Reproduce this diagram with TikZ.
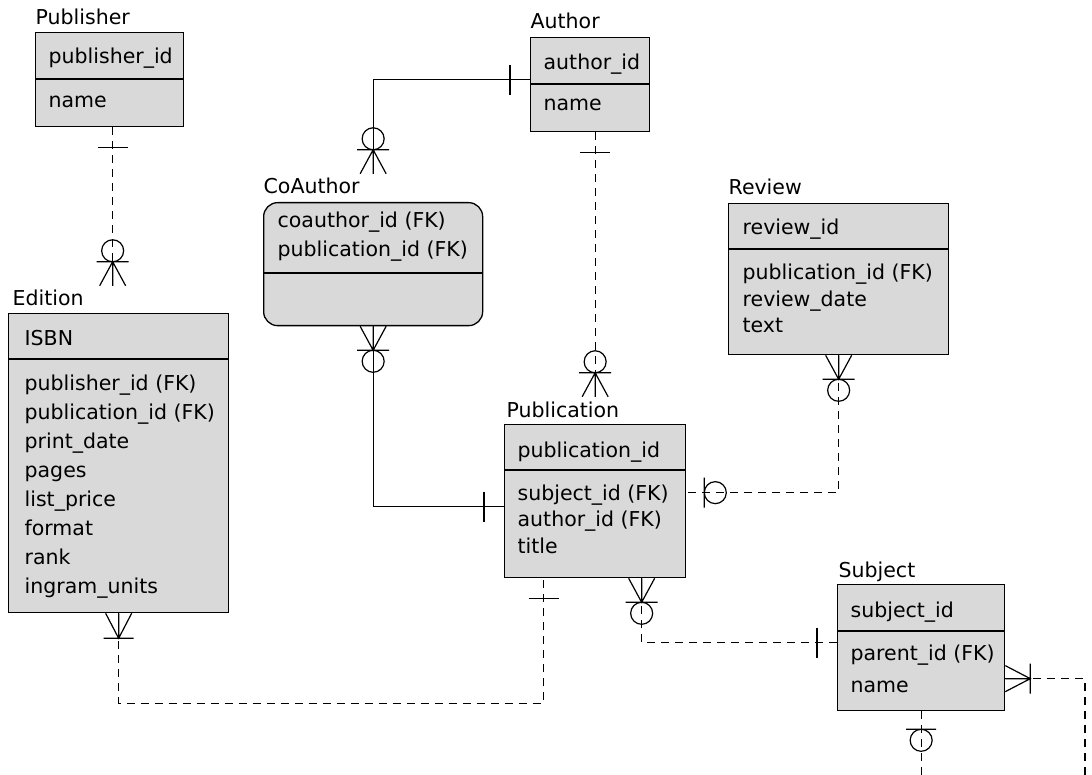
\documentclass[tikz,border=0pt]{standalone}
\usepackage{fontspec}
\newfontfamily\erfont{DejaVu Sans}
\usepackage{tikz}
\usetikzlibrary{calc}
\definecolor{boxfill}{HTML}{D9D9D9}

\tikzset{
  crow/.style={solid, line width=1.2pt},
  % cardinality marks, drawn with the entity at the origin and the line going down
  onebar/.pic={\draw[crow] (-15,20) -- (15,20);},
  zeroone/.pic={\draw[crow] (-15,18) -- (15,18) (0,29) circle[radius=11];},
  onemany/.pic={\draw[crow] (-13,0) -- (0,25) -- (13,0) (0,0) -- (0,25) (-15,25) -- (15,25);},
  zeromany/.pic={\draw[crow] (-13,0) -- (0,24) -- (13,0) (0,0) -- (0,24) (-16,24) -- (16,24) (0,35) circle[radius=11];}
}

\begin{document}
\begin{tikzpicture}[x=1pt, y=-1pt, line width=1.3pt,
  entity/.style={draw, fill=boxfill, anchor=north west, inner sep=0pt},
  field/.style={anchor=base west, inner sep=0pt, font={\erfont\fontsize{20.5}{24}\selectfont}},
  rel/.style={line width=1.2pt, dash pattern=on 8pt off 6pt},
  idrel/.style={line width=1.2pt, solid}]
  \useasboundingbox (0,0) rectangle (1092,775);

  % Publisher
  \node[field] (publisherlbl) at (35,25) {Publisher};
  \node[entity, minimum width=148pt, minimum height=94pt] (publisher) at (35,32) {};
  \draw ([yshift=-47pt]publisher.north west) -- ([yshift=-47pt]publisher.north east);
  \node[field] (publisherkey) at (48,64) {publisher\_id};
  \node[field] (publisher1) at (48,108) {name};

  % Author
  \node[field] (authorlbl) at (530,29) {Author};
  \node[entity, minimum width=119pt, minimum height=94pt] (author) at (530,37) {};
  \draw ([yshift=-47pt]author.north west) -- ([yshift=-47pt]author.north east);
  \node[field] (authorkey) at (543,70) {author\_id};
  \node[field] (author1) at (543,111) {name};

  % CoAuthor
  \node[field] (coauthorlbl) at (263,194) {CoAuthor};
  \node[entity, rounded corners=14pt, minimum width=219pt, minimum height=123pt] (coauthor) at (263,202) {};
  \draw ([yshift=-71pt]coauthor.north west) -- ([yshift=-71pt]coauthor.north east);
  \foreach \f [count=\i] in {{coauthor\_id (FK)}, {publication\_id (FK)}}
    \node[field] (coauthor\i) at (277, 199+29*\i) {\f};

  % Review
  \node[field] (reviewlbl) at (728,195) {Review};
  \node[entity, minimum width=220pt, minimum height=151pt] (review) at (728,203) {};
  \draw ([yshift=-46pt]review.north west) -- ([yshift=-46pt]review.north east);
  \node[field] (reviewkey) at (742,235) {review\_id};
  \foreach \f [count=\i] in {{publication\_id (FK)}, review\_date, text}
    \node[field] (review\i) at (742, 253.5+26.5*\i) {\f};

  % Edition
  \node[field] (editionlbl) at (12,306) {Edition};
  \node[entity, minimum width=220pt, minimum height=299pt] (edition) at (8,313) {};
  \draw ([yshift=-46pt]edition.north west) -- ([yshift=-46pt]edition.north east);
  \node[field] (editionkey) at (24,345) {ISBN};
  \foreach \f [count=\i] in {{publisher\_id (FK)}, {publication\_id (FK)}, print\_date, pages,
                             list\_price, format, rank, ingram\_units}
    \node[field] (edition\i) at (24, 361+29*\i) {\f};

  % Publication
  \node[field] (publicationlbl) at (506,417) {Publication};
  \node[entity, minimum width=181pt, minimum height=153pt] (publication) at (504,424) {};
  \draw ([yshift=-46pt]publication.north west) -- ([yshift=-46pt]publication.north east);
  \node[field] (publicationkey) at (517,457) {publication\_id};
  \foreach \f [count=\i] in {{subject\_id (FK)}, {author\_id (FK)}, title}
    \node[field] (publication\i) at (517, 473.5+26.5*\i) {\f};

  % Subject
  \node[field] (subjectlbl) at (838,577) {Subject};
  \node[entity, minimum width=167pt, minimum height=126pt] (subject) at (837,584) {};
  \draw ([yshift=-47pt]subject.north west) -- ([yshift=-47pt]subject.north east);
  \node[field] (subjectkey) at (850,617) {subject\_id};
  \foreach \f [count=\i] in {{parent\_id (FK)}, name}
    \node[field] (subject\i) at (850, 628+32*\i) {\f};

  % relationships
  % publisher - edition
  \draw[rel] ([xshift=3pt]publisher.south) -- ([xshift=3pt,yshift=4pt]publisher.south |- editionlbl.north);
  \pic at ([xshift=3pt]publisher.south) {onebar};
  \pic[rotate=180] at ([xshift=3pt,yshift=4pt]publisher.south |- editionlbl.north) {zeromany};

  % author - coauthor (identifying)
  \draw[idrel] ([yshift=5pt]author.west) -| ([yshift=4pt]coauthor.north |- coauthorlbl.north);
  \pic[rotate=-90] at ([yshift=5pt]author.west) {onebar};
  \pic[rotate=180] at ([yshift=4pt]coauthor.north |- coauthorlbl.north) {zeromany};

  % coauthor - publication (identifying)
  \draw[idrel] (coauthor.south) |- ([yshift=-5.5pt]publication.west);
  \pic at (coauthor.south) {zeromany};
  \pic[rotate=-90] at ([yshift=-5.5pt]publication.west) {onebar};

  % author - publication
  \draw[rel] (author.south -| publication.north) -- ([yshift=4pt]publication.north |- publicationlbl.north);
  \pic at (author.south -| publication.north) {onebar};
  \pic[rotate=180] at ([yshift=4pt]publication.north |- publicationlbl.north) {zeromany};

  % review - publication
  \draw[rel] (review.south) |- ([yshift=8.5pt]publication.east);
  \pic at (review.south) {zeromany};
  \pic[rotate=90] at ([yshift=8.5pt]publication.east) {zeroone};

  % edition - publication
  \draw[rel] (edition.south) -- ++(0,90) -| ([xshift=-51.5pt]publication.south);
  \pic at (edition.south) {onemany};
  \pic at ([xshift=-51.5pt]publication.south) {onebar};

  % publication - subject
  \draw[rel] ([xshift=46.5pt]publication.south) |- ([yshift=5pt]subject.west);
  \pic at ([xshift=46.5pt]publication.south) {zeromany};
  \pic[rotate=-90] at ([yshift=5pt]subject.west) {onebar};

  % subject - subject (parent), runs off the page
  \coordinate (subjectloop) at (1085,775);
  \draw[rel] ([yshift=-31pt]subject.east) -| (subjectloop);
  \draw[rel] (subject.south) -- (subject.south |- subjectloop);
  \pic[rotate=90] at ([yshift=-31pt]subject.east) {onemany};
  \pic at (subject.south) {zeroone};
\end{tikzpicture}
\end{document}
